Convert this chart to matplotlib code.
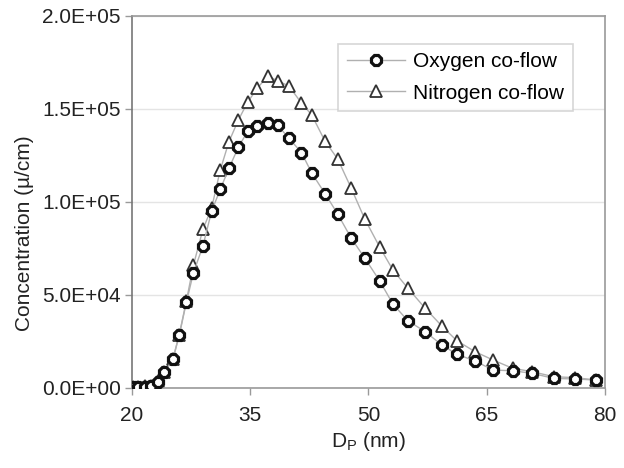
import matplotlib
matplotlib.use('Agg')
import matplotlib.pyplot as plt
from matplotlib.ticker import FuncFormatter

plt.rcParams['font.family'] = ['Liberation Sans', 'DejaVu Sans']

# particle diameter (nm) and number concentration
dp_o2 = [20.1, 20.8, 21.6, 22.4, 23.3, 24.1, 25.2, 26.0, 26.9, 27.8, 29.0, 30.1,
         31.2, 32.3, 33.5, 34.7, 35.9, 37.2, 38.5, 39.9, 41.5, 42.8, 44.5, 46.1,
         47.8, 49.5, 51.4, 53.1, 55.0, 57.2, 59.3, 61.2, 63.5, 65.8, 68.3, 70.8,
         73.5, 76.2, 78.9]
conc_o2 = [300, 400, 500, 900, 3100, 8100, 15200, 28200, 45800, 61800, 76100, 94800,
           106600, 117900, 129300, 138000, 140700, 142300, 141000, 134100, 126400,
           115400, 104200, 93300, 80400, 69800, 57500, 44900, 35900, 30000, 22900,
           17900, 14300, 9400, 9000, 7600, 4900, 4600, 4000]

dp_n2 = [20.1, 20.8, 21.6, 22.4, 23.3, 24.1, 25.2, 26.0, 26.9, 27.8, 29.0, 30.1,
         31.2, 32.3, 33.5, 34.7, 35.9, 37.2, 38.5, 39.9, 41.5, 42.8, 44.5, 46.1,
         47.8, 49.5, 51.4, 53.1, 55.0, 57.2, 59.3, 61.2, 63.5, 65.8, 68.3, 70.8,
         73.5, 76.2, 78.9]
conc_n2 = [300, 400, 600, 1000, 3300, 8300, 15500, 28500, 46500, 65900, 85100, 96500,
           117000, 132200, 143900, 153700, 160900, 167600, 164900, 162200, 153000,
           146600, 132400, 122900, 107300, 90900, 75700, 63200, 53400, 42600, 33100,
           25200, 19300, 14800, 10300, 8500, 5800, 5300, 4000]

fig = plt.figure(figsize=(6.24, 4.68), dpi=100)
ax = fig.add_axes([0.2115, 0.172, 0.758, 0.7945])

ax.plot(dp_o2, conc_o2, color='#b0b0b0', lw=1.0, marker='8', markersize=8.5,
        markerfacecolor='white', markeredgecolor='#111111', markeredgewidth=2.3,
        label='Oxygen co-flow', zorder=3)
ax.plot(dp_n2, conc_n2, color='#b0b0b0', lw=1.0, marker='^', markersize=8.5,
        markerfacecolor='white', markeredgecolor='#333333', markeredgewidth=1.3,
        label='Nitrogen co-flow', zorder=2)

ax.set_xlim(20, 80)
ax.set_ylim(0, 200000)
ax.set_xticks([20, 35, 50, 65, 80])
ax.set_yticks([0, 50000, 100000, 150000, 200000])
ax.yaxis.set_major_formatter(FuncFormatter(lambda v, p: '%.1E' % v))
ax.grid(axis='y', color='#e4e4e4', lw=1.0)
ax.set_axisbelow(True)

for s in ['top', 'right', 'bottom']:
    ax.spines[s].set_color('#9a9a9a')
ax.spines['left'].set_color('#777777')
for s in ax.spines.values():
    s.set_linewidth(1.2)
ax.tick_params(axis='both', labelsize=15, colors='#9a9a9a', labelcolor='#222222',
               length=5, width=1)
ax.tick_params(axis='y', pad=3)
ax.tick_params(axis='x', pad=8)

ax.set_xlabel('D$_\\mathregular{P}$ (nm)', fontsize=15, color='#222222', labelpad=4)
ax.set_ylabel('Concentration (µ/cm)', fontsize=15, color='#222222', labelpad=6)
ax.yaxis.label.set_y(0.415)

leg = ax.legend(loc='upper right', bbox_to_anchor=(0.932, 0.924), borderaxespad=0,
                fontsize=15, frameon=True, fancybox=False, edgecolor='#cccccc',
                handlelength=2.8, handletextpad=0.4, borderpad=0.4,
                labelspacing=0.6)
leg.get_frame().set_linewidth(1.2)

fig.savefig('out.png', dpi=100)
